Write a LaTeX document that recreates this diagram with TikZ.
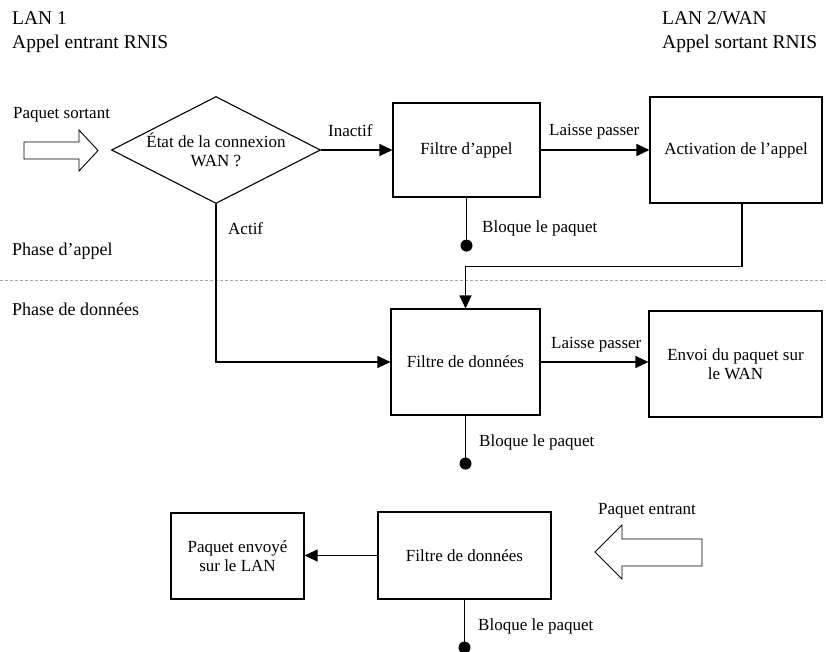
\documentclass[tikz,border=0pt]{standalone}
\usepackage{fontspec}
\setmainfont{Liberation Serif}
\usetikzlibrary{arrows.meta,positioning,calc,shapes.geometric}
\tikzset{boite/.style={rectangle, draw=black, line width=1.1pt, align=center, inner sep=2pt, font=\fontsize{17}{19}\selectfont},
	losange/.style={diamond, draw=black, line width=1.1pt, align=center, inner sep=0pt, aspect=1.95, font=\fontsize{17}{19}\selectfont},
	txt/.style={inner sep=0pt, anchor=base west, font=\fontsize{17}{19}\selectfont},
	fleche/.style={line width=1.1pt, -{Triangle[length=13pt,width=12pt]}},
	trait/.style={line width=1.1pt},
	arret/.style={circle, fill=black, inner sep=0pt, minimum size=12pt}}

\begin{document}
\begin{tikzpicture}[x=1pt,y=-1pt]
		\useasboundingbox (0,0) rectangle (826,651);
		% en-tetes
		\node[txt, font=\fontsize{19.5}{23}\selectfont] (lanA) at (12,24) {LAN 1};
		\node[txt, font=\fontsize{19.5}{23}\selectfont] (rnisA) at (12,48) {Appel entrant RNIS};
		\node[txt, font=\fontsize{19.5}{23}\selectfont] (lanB) at (662,24) {LAN 2/WAN};
		\node[txt, font=\fontsize{19.5}{23}\selectfont] (rnisB) at (662,48) {Appel sortant RNIS};
		% phases
		\draw[gray!70, line width=.6pt, dash pattern=on 3pt off 2pt] (0,280) -- (826,280);
		\node[txt, font=\fontsize{18}{20}\selectfont] (phA) at (12,255) {Phase d'appel};
		\node[txt, font=\fontsize{18}{20}\selectfont] (phD) at (12,315) {Phase de données};
		% phase d'appel
		\node[txt] (sortant) at (13,118) {Paquet sortant};
		\draw[line width=.9pt] (24,142) -- (79,142) -- (79,130) -- (98,150.5) -- (79,171) -- (79,159) -- (24,159) -- cycle;
		\node[losange, minimum width=209pt, minimum height=107pt] (etat) at (216,150) {État de la connexion\\WAN ?};
		\node[boite, minimum width=147pt, minimum height=94pt] (filtreA) at (466.5,150) {Filtre d'appel};
		\node[boite, minimum width=172pt, minimum height=106pt] (activ) at (736,150) {Activation de l'appel};
		\draw[fleche] (etat.east) -- (filtreA.west);
		\node[txt] (inactif) at (328,136) {Inactif};
		\draw[fleche] (filtreA.east) -- (activ.west);
		\node[txt] (passeA) at (549,135) {Laisse passer};
		\node[arret] (stopA) at ($(filtreA.south)+(0,48)$) {};
		\draw[trait] (filtreA.south) -- (stopA.center);
		\node[txt] (bloqA) at (482,232) {Bloque le paquet};
		% phase de donnees
		\node[boite, minimum width=149pt, minimum height=106pt] (filtreD) at (465.5,362) {Filtre de données};
		\node[boite, minimum width=173pt, minimum height=106pt] (envoi) at (735.5,364) {Envoi du paquet sur\\le WAN};
		\coordinate (coude) at ($(filtreD.north)+(0,-42)$);
		\draw[fleche] ($(activ.south)+(6,0)$) |- (coude) -- (filtreD.north);
		\draw[fleche] (etat.south) |- (filtreD.west);
		\node[txt] (actif) at (228,234) {Actif};
		\draw[fleche] (filtreD.east) -- (filtreD.east -| envoi.west);
		\node[txt] (passeD) at (551,348) {Laisse passer};
		\node[arret] (stopD) at ($(filtreD.south)+(0,48)$) {};
		\draw[trait] (filtreD.south) -- (stopD.center);
		\node[txt] (bloqD) at (479,446) {Bloque le paquet};
		% paquet entrant
		\node[boite, minimum width=133pt, minimum height=86pt] (envoye) at (237.5,556) {Paquet envoyé\\sur le LAN};
		\node[boite, minimum width=173pt, minimum height=87pt] (filtreL) at (464.5,555.5) {Filtre de données};
		\draw[fleche] (filtreL.west) -- (filtreL.west -| envoye.east);
		\node[txt] (entrant) at (598,514) {Paquet entrant};
		\draw[line width=.9pt] (702,539) -- (622,539) -- (622,525) -- (595,552) -- (622,579) -- (622,566) -- (702,566) -- cycle;
		\node[arret] (stopL) at ($(filtreL.south)+(0,48)$) {};
		\draw[trait] (filtreL.south) -- (stopL.center);
		\node[txt] (bloqL) at (478,630) {Bloque le paquet};
\end{tikzpicture}
\end{document}
